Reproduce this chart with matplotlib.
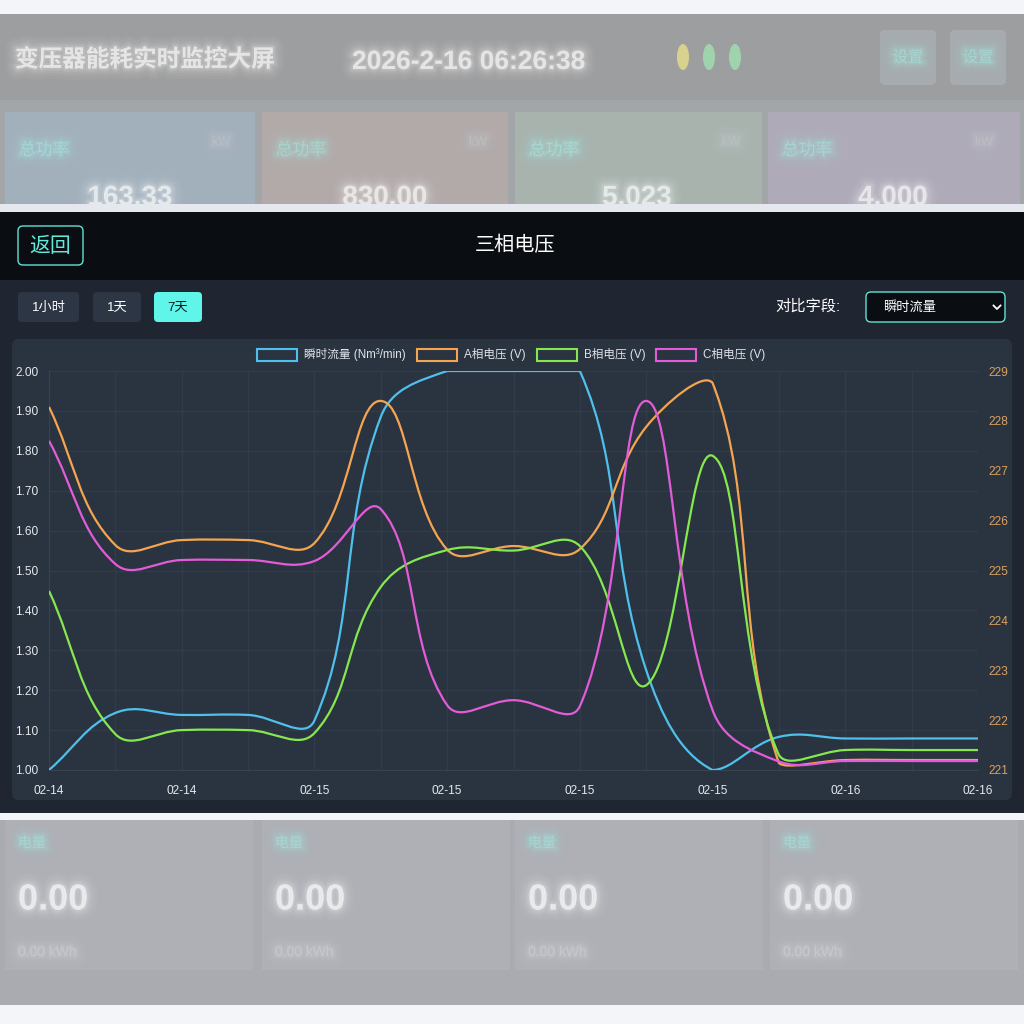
import numpy as np
import matplotlib
matplotlib.use("Agg")
import matplotlib.pyplot as plt
from matplotlib.patches import Rectangle, FancyBboxPatch, Ellipse
from matplotlib.path import Path
from matplotlib.patches import PathPatch
import matplotlib.patheffects as pe

plt.rcParams['font.family'] = ['Liberation Sans', 'Noto Sans CJK SC', 'DejaVu Sans']

# ---- data ----
labels = ["02-14", "02-14", "02-14", "02-14", "02-15", "02-15", "02-15", "02-15",
          "02-15", "02-15", "02-15", "02-16", "02-16", "02-16", "02-16"]
flow = [1.00, 1.143, 1.138, 1.138, 1.124, 1.885, 2.00, 2.00, 2.00, 1.25, 1.00, 1.083, 1.079, 1.079, 1.079]
volt_a = [228.28, 225.51, 225.61, 225.61, 225.55, 228.40, 225.42, 225.49, 225.43, 227.88, 228.76, 221.14, 221.20, 221.20, 221.20]
volt_b = [224.59, 221.72, 221.80, 221.80, 221.74, 224.67, 225.41, 225.40, 225.49, 222.70, 227.30, 221.30, 221.40, 221.40, 221.40]
volt_c = [227.60, 225.13, 225.21, 225.21, 225.19, 226.23, 222.30, 222.40, 222.28, 228.40, 222.20, 221.17, 221.18, 221.18, 221.18]
series_names = ["瞬时流量 (Nm³/min)", "A相电压 (V)", "B相电压 (V)", "C相电压 (V)"]
colors = ["#4fc0ec", "#f5a54f", "#86e84f", "#e45bd8"]

left_ticks = np.round(np.arange(1.0, 2.001, 0.1), 2)
right_ticks = np.arange(221, 230, 1)

# chart area in pixels
L, R, T, B = 49, 978, 371, 770

fig = plt.figure(figsize=(10.24, 10.24), dpi=100)
bg = fig.add_axes([0, 0, 1, 1])
bg.set_xlim(0, 1024)
bg.set_ylim(1024, 0)
bg.axis('off')


def rect(x, y, w, h, color, z=1, r=0, ec='none', lw=0):
    if r:
        p = FancyBboxPatch((x, y), w, h, boxstyle="round,pad=0,rounding_size=%d" % r,
                           fc=color, ec=ec, lw=lw, zorder=z)
    else:
        p = Rectangle((x, y), w, h, fc=color, ec=ec, lw=lw, zorder=z)
    bg.add_patch(p)


def blur_text(x, y, s, size, color, alpha=0.35, **kw):
    # fake a gaussian blur with stacked soft strokes
    eff = [pe.Stroke(linewidth=w, foreground=color, alpha=a)
           for w, a in ((16, 0.03), (12, 0.045), (8, 0.065), (5, 0.09), (2.5, 0.12))]
    eff.append(pe.Normal())
    bg.text(x, y, s, fontsize=size, color=color, alpha=alpha, path_effects=eff,
            zorder=2, **kw)


# ---- blurred page behind the modal ----
rect(0, 0, 1024, 1024, "#f3f5f9", z=0)
rect(0, 14, 1024, 90, "#9d9ea0")
rect(0, 100, 1024, 110, "#a3a6a9")
for x0, w, c in [(5, 250, "#a2b0bc"), (262, 246, "#b2a9a9"), (515, 247, "#a8b3ae"), (768, 252, "#aeaab8")]:
    rect(x0, 112, w, 100, c)
    blur_text(x0 + 14, 150, "总功率", 12, "#a6ece4", va='center')
    blur_text(x0 + 225, 142, "kW", 9, "#c8ccd0", va='center', ha='right', alpha=0.25)
blur_text(15, 60, "变压器能耗实时监控大屏", 17, "white", va='center', fontweight='bold', alpha=0.5)
blur_text(352, 62, "2026-2-16 06:26:38", 19, "white", va='center', fontweight='bold', alpha=0.5)
for cx, c in [(683, "#ede48a"), (709, "#9fe6b4"), (735, "#9fe6b4")]:
    bg.add_patch(Ellipse((cx, 57), 12, 26, fc=c, ec='none', alpha=0.75, zorder=2))
for x0 in (880, 950):
    rect(x0, 30, 56, 55, "#a5abae", z=2, r=5)
    blur_text(x0 + 28, 58, "设置", 11, "#a6ece4", va='center', ha='center')
for x0, s in [(130, "163.33"), (385, "830.00"), (637, "5.023"), (893, "4.000")]:
    blur_text(x0, 198, s, 20, "white", va='center', ha='center', fontweight='bold', alpha=0.45)

rect(0, 820, 1024, 185, "#a9abb0")
for x0 in (5, 262, 515, 770):
    rect(x0, 820, 248, 150, "#aeb0b6")
    blur_text(x0 + 13, 843, "电量", 10, "#a6ece4", va='center')
    blur_text(x0 + 13, 900, "0.00", 26, "white", va='center', fontweight='bold', alpha=0.5)
    blur_text(x0 + 13, 952, "0.00 kWh", 10, "#d8dade", va='center', alpha=0.25)

# ---- modal ----
rect(0, 204, 1024, 9, "#e5e9ef", z=4)
rect(0, 212, 1024, 68, "#0a0d12", z=4)
rect(0, 280, 1024, 534, "#1f2631", z=4)
rect(0, 813, 1024, 7, "#f2f4f8", z=4)
rect(12, 339, 1000, 461, "#2a3441", z=4, r=7)

rect(18, 226, 65, 39, "#0a0d12", z=5, r=5, ec="#5fe3d4", lw=1.0)
bg.text(50.5, 246.5, "返回", fontsize=15, color="#63eadb", ha='center', va='center', zorder=6)
bg.text(515, 246, "三相电压", fontsize=14.5, color="white", ha='center', va='center', zorder=6)

for x0, w, s, fc, tc in [(18, 61, "1小时", "#2c3644", "white"),
                          (93, 48, "1天", "#2c3644", "white"),
                          (154, 48, "7天", "#5ff5e8", "#111820")]:
    rect(x0, 292, w, 30, fc, z=5, r=4)
    bg.text(x0 + w / 2, 307.5, s, fontsize=9.5, color=tc, ha='center', va='center', zorder=6)

bg.text(775, 306.5, "对比字段:", fontsize=11, color="white", ha='left', va='center', zorder=6)
rect(866, 292, 139, 30, "#0a0d12", z=5, r=5, ec="#5fe3d4", lw=1.0)
bg.text(883, 307.5, "瞬时流量", fontsize=9.5, color="white", ha='left', va='center', zorder=6)
bg.plot([993.5, 997, 1000.5], [305.5, 309, 305.5], color="white", lw=1.3, zorder=6)

# legend
for x0, name, c in zip([257, 417, 537, 656], series_names, colors):
    rect(x0, 348.5, 40, 12, "#2a3441", z=6, ec=c, lw=1.5)
    bg.text(x0 + 47, 354.5, name, fontsize=8.4, color="#dfe3e8", ha='left', va='center', zorder=6)

# ---- chart axes ----
ax = fig.add_axes([L / 1024, (1024 - B) / 1024, (R - L) / 1024, (B - T) / 1024])
ax.set_zorder(3)
ax.patch.set_alpha(0)
ax.set_xlim(0, len(labels) - 1)
ax.set_ylim(1.0, 2.0)
ax2 = ax.twinx()
ax2.set_ylim(221, 229)

grid_c = "#313b49"
ax.set_xticks(range(len(labels)))
ax.set_xticklabels([l if i % 2 == 0 else "" for i, l in enumerate(labels)])
ax.set_yticks(left_ticks)
ax.set_yticklabels(["%.2f" % v for v in left_ticks])
ax.grid(True, color=grid_c, lw=1.0)
ax.tick_params(axis='both', length=0, labelsize=8.6, colors="#e6e8eb")
ax.tick_params(axis='y', pad=7.5)
ax.tick_params(axis='x', pad=10.5)
ax2.set_yticks(right_ticks)
ax2.set_yticklabels([str(v) for v in right_ticks])
ax2.tick_params(axis='y', length=0, labelsize=8.6, colors="#dca15e", pad=7.5)
for a in (ax, ax2):
    for s in a.spines.values():
        s.set_visible(False)
ax.spines['left'].set_visible(True)
ax.spines['bottom'].set_visible(True)
ax.spines['left'].set_color("#384250")
ax.spines['bottom'].set_color("#384250")


def spline_path(vals, lo, hi, tension=0.4):
    # chart.js style bezier, computed in pixel space and capped to the chart area
    n = len(vals)
    step = (R - L) / (n - 1)
    px = [L + i * step for i in range(n)]
    py = [B - (v - lo) / (hi - lo) * (B - T) for v in vals]
    prevs, nexts = [], []
    for i in range(n):
        a, b = max(i - 1, 0), min(i + 1, n - 1)
        d01 = np.hypot(px[i] - px[a], py[i] - py[a])
        d12 = np.hypot(px[b] - px[i], py[b] - py[i])
        tot = d01 + d12
        s01 = d01 / tot if tot else 0
        s12 = d12 / tot if tot else 0
        dx, dy = px[b] - px[a], py[b] - py[a]
        p = [px[i] - tension * s01 * dx, py[i] - tension * s01 * dy]
        q = [px[i] + tension * s12 * dx, py[i] + tension * s12 * dy]
        for c in (p, q):
            c[0] = min(max(c[0], L), R)
            c[1] = min(max(c[1], T), B)
        prevs.append(p)
        nexts.append(q)

    def to_data(x, y):
        return ((x - L) / step, lo + (B - y) / (B - T) * (hi - lo))

    verts = [to_data(px[0], py[0])]
    codes = [Path.MOVETO]
    for i in range(n - 1):
        verts += [to_data(*nexts[i]), to_data(*prevs[i + 1]), to_data(px[i + 1], py[i + 1])]
        codes += [Path.CURVE4] * 3
    return Path(verts, codes)


ax.add_patch(PathPatch(spline_path(flow, 1.0, 2.0), fc='none', ec=colors[0], lw=1.6, zorder=4))
for vals, c in zip([volt_a, volt_b, volt_c], colors[1:]):
    ax2.add_patch(PathPatch(spline_path(vals, 221, 229), fc='none', ec=c, lw=1.6, zorder=4))

fig.savefig("out.png", dpi=100)
